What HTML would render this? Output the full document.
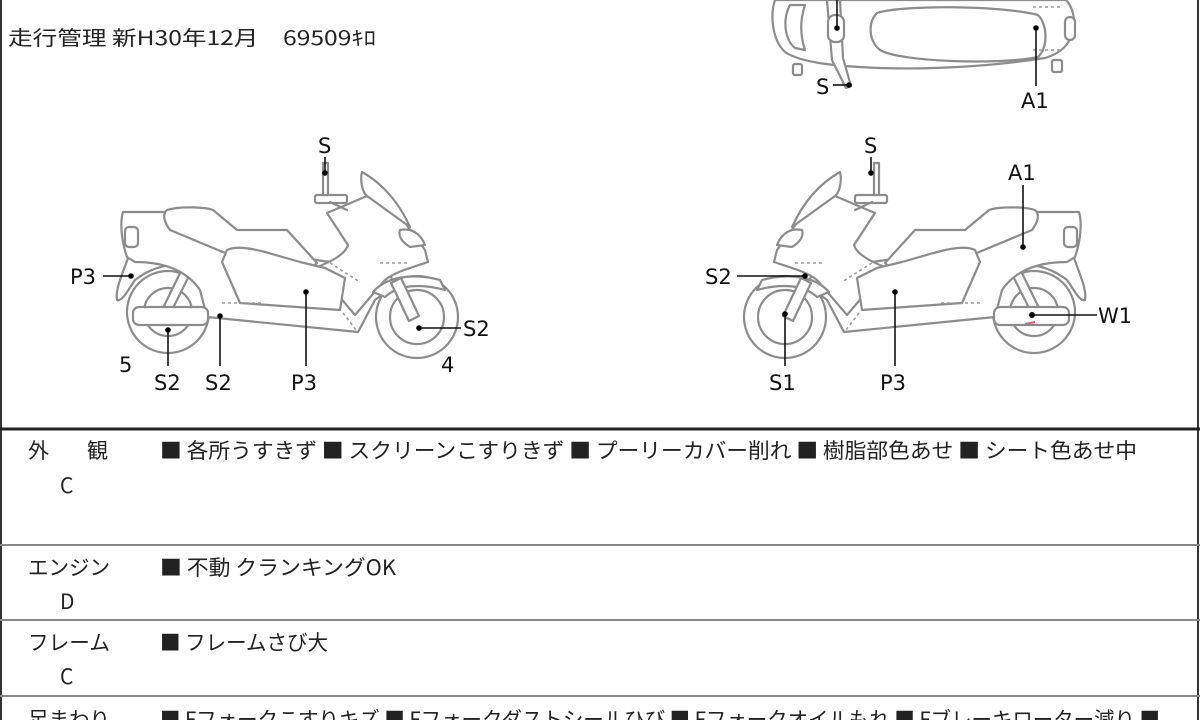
<!DOCTYPE html>
<html><head><meta charset="utf-8"><style>
body{margin:0;background:#fff;}
svg{display:block}
.t{font-family:"Liberation Sans","Noto Sans CJK JP",sans-serif;fill:#222;}
.j{font-family:"Noto Sans CJK JP",sans-serif;fill:#222;}
.b{fill:#fff;stroke:#8c8c8c;stroke-width:2.2;stroke-linejoin:round;stroke-linecap:round}
.d{fill:none;stroke:#999;stroke-width:1.6;stroke-dasharray:3 3}
.l{stroke:#111;stroke-width:1.6;fill:none}
.lab{font-family:"DejaVu Sans","Liberation Sans",sans-serif;font-size:21px;fill:#111}
</style></head><body>
<svg width="1200" height="720" viewBox="0 0 1200 720">
<rect x="1" y="-2" width="1197" height="730" fill="none" stroke="#333" stroke-width="2"/>
<text x="8" y="45" class="j" font-size="20" textLength="368" lengthAdjust="spacingAndGlyphs">走行管理 新H30年12月　69509ｷﾛ</text>

<!-- top view -->
<g>
<path class="b" d="M775,0 C770,15 772,40 785,52 C800,62 830,66 880,68 C940,70 1000,65 1045,58 C1065,52 1073,40 1074,22 C1074,12 1070,4 1066,0 Z"/>
<path class="b" d="M790,5 C782,20 785,40 795,48 L805,50 C800,35 800,20 805,5 Z"/>
<path class="b" d="M877,13 C900,5 1000,5 1038,15 C1048,25 1048,48 1038,57 C1000,65 900,62 880,50 C868,40 868,22 877,13 Z"/>
<path class="b" d="M827,0 L832,60 L846,88 L851,86 L843,58 L840,0 Z"/>
<rect class="b" x="828" y="15" width="16" height="27" rx="7"/>
<rect class="b" x="1065" y="17" width="10" height="23" rx="5"/>
<rect class="b" x="793" y="64" width="9" height="11" rx="2"/>
<rect class="b" x="1052" y="60" width="10" height="12" rx="2"/>
<line class="d" x1="1033" y1="7" x2="1063" y2="7"/>
<line class="d" x1="1033" y1="50" x2="1063" y2="50"/>
<line class="l" x1="837" y1="0" x2="837" y2="28"/><circle cx="837" cy="28" r="2.8"/>
<line class="l" x1="833" y1="85" x2="849" y2="85"/><circle cx="849" cy="85" r="2.8"/>
<line class="l" x1="1036" y1="28" x2="1036" y2="86"/><circle cx="1036" cy="28" r="2.8"/>
<text class="lab" x="816" y="94">S</text>
<text class="lab" x="1021" y="108">A1</text>
</g>

<!-- bike shape definition -->
<defs>
<g id="bike">
<path class="b" d="M128,258 C122,275 115,290 117,300 C122,302 128,290 135,280 C150,268 170,262 195,265 Z"/>
<circle class="b" cx="168" cy="312" r="41"/>
<circle class="b" cx="168" cy="312" r="24"/>
<path class="b" d="M183,267 L191,272 L172,310 L164,306 Z"/>
<circle class="b" cx="417" cy="317" r="41"/>
<circle class="b" cx="417" cy="317" r="27"/>
<path class="b" d="M123,212 L167,212 L220,246 L330,262 L390,275 L395,285 L375,300 L358,332 L207,317 L200,290 C185,268 160,262 135,262 L127,257 C121,240 120,222 123,212 Z"/>
<rect class="b" x="125" y="227" width="13" height="20" rx="4"/>
<path class="b" d="M167,210 C180,206 205,207 213,210 L237,230 L287,230 L317,263 L307,272 C285,273 250,262 230,255 L170,230 C164,222 162,214 167,210 Z"/>
<path class="b" d="M327,213 L367,196 L400,216 L425,250 L428,262 C410,268 395,272 385,280 L355,315 L315,268 C330,262 345,255 348,245 Z"/>
<path class="b" d="M362,172 C360,180 362,192 367,196 L410,227 C400,205 385,185 362,172 Z"/>
<path class="b" d="M400,230 C410,228 420,232 425,245 L410,247 C402,242 398,236 400,230 Z"/>
<path class="b" d="M227,250 C235,246 250,248 265,252 L300,262 L325,268 L345,278 L340,310 L240,303 L222,262 Z"/>
<rect class="b" x="315" y="195" width="32" height="8" rx="2"/>
<path class="b" d="M323,163 L328,163 L328,195 L323,195 Z"/>
<path class="b" d="M330,202 L347,210"/>
<path class="b" d="M373,292 C385,278 410,272 440,280 L445,290 C420,283 398,285 385,297 Z"/>
<path class="b" d="M391,283 L401,278 L419,316 L409,321 Z"/>
<rect class="b" x="133" y="307" width="75" height="18" rx="6"/>
<line class="d" x1="222" y1="303" x2="262" y2="303"/>
<line class="d" x1="330" y1="263" x2="360" y2="282"/>
<line class="d" x1="380" y1="263" x2="410" y2="263"/>
<line class="d" x1="343" y1="313" x2="356" y2="330"/>
</g>
</defs>

<use href="#bike"/>
<g transform="translate(1202,0) scale(-1,1)"><use href="#bike"/></g>
<path d="M1025,324 L1035,322" stroke="#d66" stroke-width="2"/>

<!-- left labels -->
<text class="lab" x="318" y="153">S</text>
<line class="l" x1="325" y1="157" x2="325" y2="173"/><circle cx="325" cy="173" r="2.8"/>
<text class="lab" x="70" y="284">P3</text>
<line class="l" x1="103" y1="276" x2="131" y2="276"/><circle cx="131" cy="276" r="2.8"/>
<text class="lab" x="119" y="372">5</text>
<line class="l" x1="168" y1="330" x2="168" y2="366"/><circle cx="168" cy="330" r="2.8"/>
<text class="lab" x="154" y="390">S2</text>
<line class="l" x1="220" y1="316" x2="220" y2="366"/><circle cx="220" cy="316" r="2.8"/>
<text class="lab" x="205" y="390">S2</text>
<line class="l" x1="306" y1="292" x2="306" y2="366"/><circle cx="306" cy="292" r="2.8"/>
<text class="lab" x="291" y="390">P3</text>
<text class="lab" x="441" y="372">4</text>
<line class="l" x1="419" y1="328" x2="461" y2="328"/><circle cx="419" cy="328" r="2.8"/>
<text class="lab" x="463" y="336">S2</text>

<!-- right labels -->
<text class="lab" x="864" y="153">S</text>
<line class="l" x1="871" y1="157" x2="871" y2="173"/><circle cx="871" cy="173" r="2.8"/>
<text class="lab" x="1008" y="180">A1</text>
<line class="l" x1="1023" y1="185" x2="1023" y2="247"/><circle cx="1023" cy="247" r="2.8"/>
<text class="lab" x="705" y="284">S2</text>
<line class="l" x1="737" y1="276" x2="805" y2="276"/><circle cx="805" cy="276" r="2.8"/>
<line class="l" x1="785" y1="314" x2="785" y2="366"/><circle cx="785" cy="314" r="2.8"/>
<text class="lab" x="769" y="390">S1</text>
<line class="l" x1="895" y1="292" x2="895" y2="366"/><circle cx="895" cy="292" r="2.8"/>
<text class="lab" x="880" y="390">P3</text>
<line class="l" x1="1032" y1="315" x2="1097" y2="315"/><circle cx="1032" cy="315" r="3"/>
<text class="lab" x="1098" y="323">W1</text>

<!-- table -->
<line x1="0" y1="429" x2="1200" y2="429" stroke="#222" stroke-width="3"/>
<line x1="0" y1="545" x2="1200" y2="545" stroke="#888" stroke-width="2"/>
<line x1="0" y1="620" x2="1200" y2="620" stroke="#888" stroke-width="2"/>
<line x1="0" y1="696" x2="1200" y2="696" stroke="#888" stroke-width="2"/>

<g class="j" font-size="21">
<text x="28" y="458">外</text><text x="87" y="458">観</text>
<text x="60" y="493">C</text>
<text x="160" y="458" textLength="977" lengthAdjust="spacingAndGlyphs">■ 各所うすきず ■ スクリーンこすりきず ■ プーリーカバー削れ ■ 樹脂部色あせ ■ シート色あせ中</text>
<text x="28" y="575" textLength="82" lengthAdjust="spacingAndGlyphs">エンジン</text>
<text x="60" y="609">D</text>
<text x="160" y="575" textLength="236" lengthAdjust="spacingAndGlyphs">■ 不動 クランキングOK</text>
<text x="28" y="650" textLength="82" lengthAdjust="spacingAndGlyphs">フレーム</text>
<text x="60" y="684">C</text>
<text x="160" y="650" textLength="168" lengthAdjust="spacingAndGlyphs">■ フレームさび大</text>
<text x="28" y="727" textLength="82" lengthAdjust="spacingAndGlyphs">足まわり</text>
<text x="160" y="727" textLength="1000" lengthAdjust="spacingAndGlyphs">■ Fフォークこすりキズ ■ Fフォークダストシールひび ■ Fフォークオイルもれ ■ Fブレーキローター減り ■</text>
</g>
</svg>
</body></html>
